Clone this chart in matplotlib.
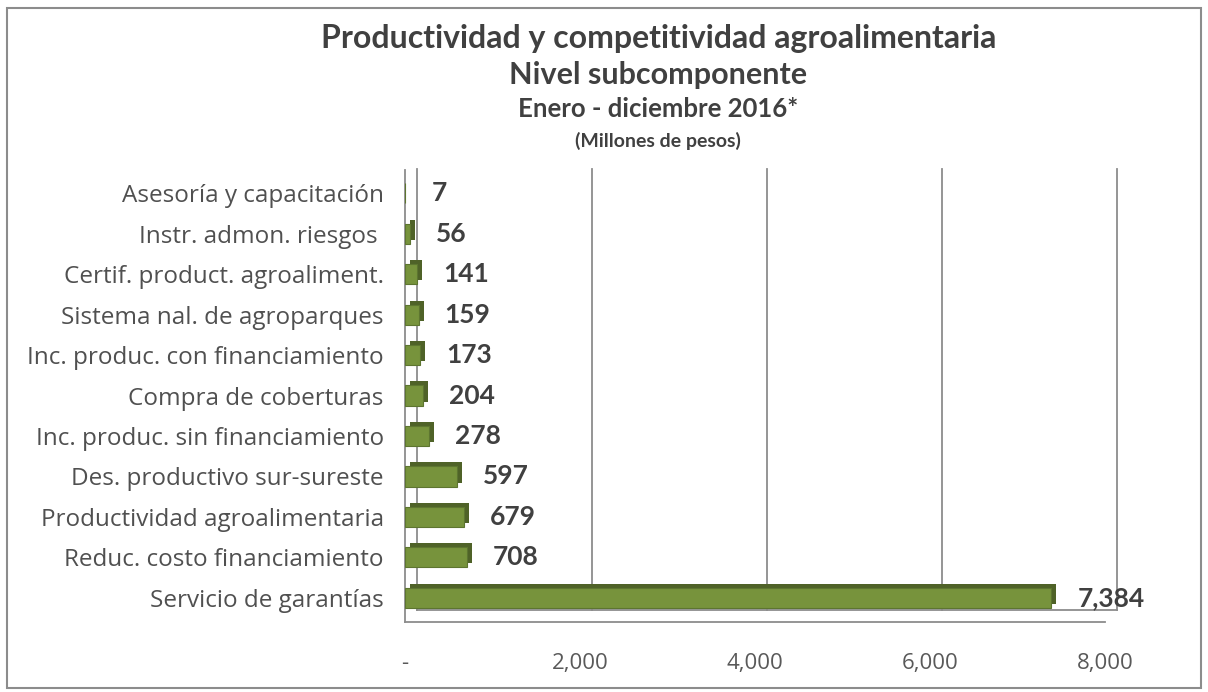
import matplotlib.pyplot as plt
from matplotlib.patches import Rectangle
from matplotlib.transforms import offset_copy

# data (millones de pesos), bottom to top
categorias = [
    "Servicio de garantías",
    "Reduc. costo financiamiento",
    "Productividad agroalimentaria",
    "Des. productivo sur-sureste",
    "Inc. produc. sin financiamiento",
    "Compra de coberturas",
    "Inc. produc. con financiamiento",
    "Sistema nal. de agroparques",
    "Certif. product. agroaliment.",
    "Instr. admon. riesgos ",
    "Asesoría y capacitación",
]
valores = [7384, 708, 679, 597, 278, 204, 173, 159, 141, 56, 7]
ticks = [0, 2000, 4000, 6000, 8000]
tick_labels = ["-", "2,000", "4,000", "6,000", "8,000"]

plt.rcParams['font.family'] = ['Lato', 'DejaVu Sans']

fig = plt.figure(figsize=(12.08, 6.92), dpi=100)
ax = fig.add_axes([0.335, 0.101, 0.58, 0.653])

pos = list(range(len(categorias)))
dx, dy = 5, 4

# back walls / gridlines shifted for a 3D look
back = offset_copy(ax.transData, fig=fig, x=12, y=12, units='dots')
for t in ticks:
    ax.plot([t, t], [-0.6, 10.3], color='#8c8c8c', lw=1.3, transform=back, clip_on=False)
ax.plot([0, 8000], [-0.6, -0.6], color='#8c8c8c', lw=1.3, transform=back, clip_on=False)

# bar depth
shade = offset_copy(ax.transData, fig=fig, x=dx, y=dy, units='dots')
ax.barh(pos, valores, height=0.5, color='#4f6228', transform=shade, zorder=2)
ax.barh(pos, valores, height=0.5, color='#77933c', edgecolor='#5d7530', lw=0.8, zorder=3)

for p, v in zip(pos, valores):
    ax.annotate(f"{v:,}", (v, p), xytext=(26, 0), textcoords='offset pixels',
                va='center', ha='left', fontsize=19, fontweight='bold',
                color='#404040', zorder=4)

ax.set_xlim(0, 8000)
ax.set_ylim(-0.6, 10.57)
ax.set_yticks(pos)
ax.set_yticklabels(categorias, fontsize=17.5, color='#505050', family=['Open Sans', 'DejaVu Sans'])
ax.set_xticks(ticks)
ax.set_xticklabels(tick_labels, fontsize=16, color='#595959', family=['Open Sans', 'DejaVu Sans'])
ax.tick_params(axis='x', length=0, pad=22)
ax.tick_params(axis='y', length=0, pad=15)
for s in ['top', 'right']:
    ax.spines[s].set_visible(False)
for s in ['left', 'bottom']:
    ax.spines[s].set_color('#8c8c8c')
    ax.spines[s].set_linewidth(1.3)
ax.patch.set_alpha(0)

fig.text(0.545, 0.945, "Productividad y competitividad agroalimentaria", ha='center',
         va='center', fontsize=23, fontweight='bold', color='#404040')
fig.text(0.545, 0.892, "Nivel subcomponente", ha='center', va='center',
         fontsize=22, fontweight='bold', color='#404040')
fig.text(0.545, 0.842, "Enero - diciembre 2016*", ha='center', va='center',
         fontsize=18.5, fontweight='bold', color='#404040')
fig.text(0.545, 0.797, "(Millones de pesos)", ha='center', va='center',
         fontsize=14, fontweight='bold', color='#404040')

fig.patches.append(Rectangle((0.006, 0.006), 0.988, 0.982, transform=fig.transFigure,
                             fill=False, edgecolor='#8c8c8c', lw=1.5))

fig.savefig('out.png', dpi=100)
